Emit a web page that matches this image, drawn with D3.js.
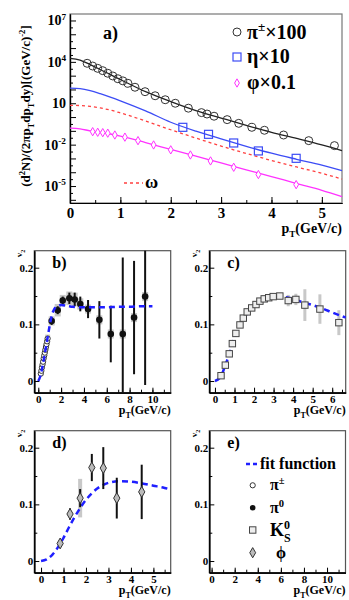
<!DOCTYPE html>
<html>
<head>
<meta charset="utf-8">
<script src="https://cdn.jsdelivr.net/npm/d3@7"></script>
<style>
body { margin: 0; background: #fff; }
svg text { font-family: "Liberation Serif", "Times New Roman", serif; font-weight: bold; }
</style>
</head>
<body>
<div id="chart"></div>
<script>
// ---------- panel a: spectra (pT in GeV/c) ----------
var piPt  = [0.34,0.45,0.55,0.65,0.75,0.85,0.95,1.05,1.15,1.29,1.49,1.69,1.89,2.09,2.35,2.61,2.72,2.86,3.12,3.35,3.61,3.86,4.24,4.74,5.25];
var piY   = [7900,5000,3400,2300,1500,950,600,420,280,145,69,35,18,10,4.4,2.1,1.66,1.15,0.65,0.35,0.18,0.11,0.050,0.0195,0.0085];
var etaPt = [2.24,2.75,3.25,3.74,4.49];
var etaY  = [0.18,0.056,0.0132,0.0035,0.00102];
var phiPt = [0.45,0.55,0.65,0.75,0.89,1.09,1.35,1.66,2.00,2.39,2.79,3.25,3.74,4.49];
var phiY  = [0.087,0.079,0.074,0.068,0.050,0.035,0.0195,0.0095,0.0042,0.00178,0.00066,0.000229,0.000068,0.0000126];
var phiErr = [0.022,0.02,0.018,0.017,0.013,0.009,0.005,0.0025,0.0011,0.00045,0.00017,0.00006,0.000018,0.0000035];

var fitPt    = [0,0.2,0.4,0.6,0.8,1.0,1.5,2.0,2.5,3.0,3.5,4.0,4.5,5.0,5.4];
var piFit    = [18200,13500,6300,2800,1200,525,69,13.2,2.95,0.85,0.25,0.079,0.028,0.0095,0.0037];
var etaFit   = [126,115,83,50,28,15,2.8,0.42,0.095,0.026,0.0076,0.0024,0.00087,0.00033,0.000132];
var omegaFit = [7.1,6.8,5.9,4.6,3.2,2.0,0.52,0.12,0.030,0.0079,0.0023,0.00071,0.00024,0.000083,0.000032];
var phiFit   = [0.155,0.138,0.100,0.078,0.059,0.042,0.0141,0.0045,0.00145,0.00047,0.000151,0.000049,0.0000151,0.0000049,0.0000017];

var logTicks = [7,4,1,-2,-5];

// ---------- panel b: pi v2 ----------
var pi0Pt  = [1.17,1.70,2.14,2.72,3.19,3.68,4.36,5.35,6.35,7.40,8.39,9.36];
var pi0V2  = [0.106,0.125,0.142,0.146,0.144,0.136,0.127,0.108,0.083,0.083,0.112,0.149];
var pi0Err = [0.007,0.007,0.007,0.010,0.012,0.013,0.016,0.033,0.05,0.135,0.1,0.156];
var pi0Sys = [0.008,0.011,0.010,0.012,0.012,0.010,0.008,0.008,0.008,0.008,0.008,0.008];
var piChPt  = [0.22,0.27,0.32,0.37,0.42,0.47,0.52,0.57,0.62,0.67,0.72,0.77,0.82];
var piChV2  = [0.013,0.018,0.024,0.029,0.034,0.040,0.045,0.050,0.055,0.060,0.065,0.070,0.075];
var piChSys = [0.004,0.004,0.004,0.005,0.005,0.005,0.005,0.006,0.006,0.006,0.006,0.007,0.007];
var fitBPt = [0,0.2,0.5,0.8,1.0,1.2,1.4,1.7,2.0,2.5,3,4,5,6,7,8,9,10];
var fitBV2 = [0,0.01,0.04,0.075,0.098,0.117,0.127,0.132,0.134,0.133,0.131,0.130,0.130,0.130,0.131,0.131,0.132,0.132];

// ---------- panel c: K0s v2 ----------
var ksPt  = [0.31,0.53,0.73,0.89,1.07,1.28,1.45,1.65,1.88,2.10,2.30,2.52,2.75,2.98,3.32,3.75,4.14,4.60,5.37,6.34];
var ksV2  = [0.0094,0.028,0.048,0.066,0.084,0.099,0.111,0.122,0.129,0.135,0.141,0.145,0.147,0.149,0.150,0.142,0.144,0.134,0.127,0.103];
var ksSys = [0.002,0.002,0.002,0.002,0.002,0.002,0.002,0.002,0.002,0.002,0.002,0.002,0.002,0.003,0.004,0.010,0.010,0.028,0.026,0.022];
var fitCPt = [0,0.3,0.5,0.75,1.0,1.25,1.5,1.75,2.0,2.5,3.0,3.5,4.0,4.5,5.0,5.5,6.0,6.69];
var fitCV2 = [0,0.008,0.025,0.049,0.076,0.097,0.112,0.123,0.132,0.142,0.147,0.148,0.145,0.139,0.134,0.128,0.121,0.112];

// ---------- panel d: phi v2 ----------
var phiDPt  = [0.85,1.29,1.74,2.26,2.77,3.37,4.48];
var phiDV2  = [0.031,0.083,0.111,0.165,0.164,0.111,0.122];
var phiDErr = [0.006,0.01,0.016,0.024,0.037,0.036,0.048];
var phiDSys = [0.004,0.006,0.034,0.006,0.006,0.006,0.006];
var fitDPt = [0,0.25,0.5,0.75,1.0,1.25,1.5,1.75,2.0,2.25,2.5,2.75,3.0,3.5,4.0,4.5,5.0,5.5,5.77];
var fitDV2 = [0,0.003,0.011,0.024,0.041,0.06,0.078,0.094,0.108,0.119,0.128,0.134,0.138,0.141,0.140,0.137,0.133,0.129,0.126];

var svg = d3.select("#chart").append("svg")
    .attr("width", 349)
    .attr("height", 600);

// text with sub/superscripts: parts = [[string, "sup"|"sub"|null], ...]
function rich(t, parts, fs) {
    var shift = 0;
    parts.forEach(function(p) {
        var s = p[1] === "sup" ? -0.4 * fs : (p[1] === "sub" ? 0.28 * fs : 0);
        t.append("tspan")
            .attr("dy", s - shift)
            .attr("font-size", p[1] ? fs * 0.66 : fs)
            .text(p[0]);
        shift = s;
    });
    return t;
}

function styleAxis(sel, fs) {
    sel.attr("font-family", null).attr("font-size", fs);
    sel.select(".domain").attr("stroke", "#000").attr("stroke-width", 1.2);
    sel.selectAll(".tick line").attr("stroke", "#000").attr("stroke-width", 1);
    sel.selectAll("text").attr("fill", "#000");
}

// ================= panel a =================
var a = { left: 70, right: 342, top: 14, bottom: 203 };
var xa = d3.scaleLinear().domain([0, 5.4]).range([a.left, a.right]);
var ya = d3.scaleLog().domain([Math.pow(10, -6.23), Math.pow(10, 7.47)]).range([a.bottom, a.top]);

svg.append("rect")
    .attr("x", a.left).attr("y", a.top)
    .attr("width", a.right - a.left).attr("height", a.bottom - a.top)
    .attr("fill", "none").attr("stroke", "#777").attr("stroke-width", 1.2);

// x axis
svg.append("g").attr("transform", "translate(0," + a.bottom + ")")
    .call(d3.axisBottom(xa).tickValues(d3.range(0, 5.5, 0.5)).tickSize(-3).tickFormat("").tickSizeOuter(0))
    .call(styleAxis, 15);
svg.append("g").attr("transform", "translate(0," + a.bottom + ")")
    .call(d3.axisBottom(xa).tickValues([0,1,2,3,4,5]).tickSize(-6).tickPadding(4).tickSizeOuter(0)
        .tickFormat(d3.format("d")))
    .call(styleAxis, 15);

// y axis (log) - decades and half decades
var decades = d3.range(-6, 8).map(function(e) { return Math.pow(10, e); });
var halves = d3.range(-6, 7).map(function(e) { return Math.pow(10, e + 0.5); });
svg.append("g").attr("transform", "translate(" + a.left + ",0)")
    .call(d3.axisLeft(ya).tickValues(halves).tickSize(-3).tickFormat("").tickSizeOuter(0))
    .call(styleAxis, 13);
svg.append("g").attr("transform", "translate(" + a.left + ",0)")
    .call(d3.axisLeft(ya).tickValues(decades).tickSize(-6).tickFormat("").tickSizeOuter(0))
    .call(styleAxis, 13);

logTicks.forEach(function(e) {
    var t = svg.append("text")
        .attr("x", 66).attr("y", ya(Math.pow(10, e)) + 5)
        .attr("text-anchor", "end");
    if (e === 1) rich(t, [["10", null]], 14);
    else rich(t, [["10", null], [String(e), "sup"]], 14);
});

// y title
var yt = svg.append("text")
    .attr("transform", "translate(30,106) rotate(-90)")
    .attr("text-anchor", "middle");
rich(yt, [["(d", null], ["2", "sup"], ["N)/(2πp", null], ["T", "sub"], ["dp", null], ["T", "sub"],
    ["dy)[(GeV/c)", null], ["-2", "sup"], ["]", null]], 13);

// x title
var xt = svg.append("text").attr("x", 342).attr("y", 233).attr("text-anchor", "end");
rich(xt, [["p", null], ["T", "sub"], ["(GeV/c)", null]], 14);

svg.append("text").attr("x", 103).attr("y", 39).attr("font-size", 18).text("a)");

var lineA = d3.line()
    .x(function(d) { return xa(d[0]); })
    .y(function(d) { return ya(d[1]); })
    .curve(d3.curveMonotoneX);

function zipA(ys) { return fitPt.map(function(p, i) { return [p, ys[i]]; }); }

svg.append("path").attr("d", lineA(zipA(piFit)))
    .attr("fill", "none").attr("stroke", "#222").attr("stroke-width", 1.3);
svg.append("path").attr("d", lineA(zipA(etaFit)))
    .attr("fill", "none").attr("stroke", "#3c4cf5").attr("stroke-width", 1.3);
svg.append("path").attr("d", lineA(zipA(omegaFit)))
    .attr("fill", "none").attr("stroke", "#ff4040").attr("stroke-width", 1.3)
    .attr("stroke-dasharray", "3,3");
svg.append("path").attr("d", lineA(zipA(phiFit)))
    .attr("fill", "none").attr("stroke", "#ff33ff").attr("stroke-width", 1.3);

// pi circles
svg.append("g").selectAll("circle").data(piPt).enter().append("circle")
    .attr("cx", function(d) { return xa(d); })
    .attr("cy", function(d, i) { return ya(piY[i]); })
    .attr("r", 4)
    .attr("fill", "none").attr("stroke", "#333").attr("stroke-width", 1);

// eta squares
svg.append("g").selectAll("rect").data(etaPt).enter().append("rect")
    .attr("x", function(d) { return xa(d) - 4; })
    .attr("y", function(d, i) { return ya(etaY[i]) - 4; })
    .attr("width", 8).attr("height", 8)
    .attr("fill", "none").attr("stroke", "#3c4cf5").attr("stroke-width", 1.2);

// phi diamonds with errors
var phiG = svg.append("g");
phiG.selectAll("line").data(phiPt).enter().append("line")
    .attr("x1", function(d) { return xa(d); }).attr("x2", function(d) { return xa(d); })
    .attr("y1", function(d, i) { return ya(phiY[i] + phiErr[i]); })
    .attr("y2", function(d, i) { return ya(phiY[i] - phiErr[i]); })
    .attr("stroke", "#ff33ff").attr("stroke-width", 1);
phiG.selectAll("path").data(phiPt).enter().append("path")
    .attr("d", d3.symbol().type(d3.symbolDiamond).size(20))
    .attr("transform", function(d, i) { return "translate(" + xa(d) + "," + ya(phiY[i]) + ")"; })
    .attr("fill", "#fff").attr("stroke", "#ff33ff").attr("stroke-width", 1);

// legend a
var leg = svg.append("g");
leg.append("circle").attr("cx", 237).attr("cy", 32).attr("r", 4)
    .attr("fill", "none").attr("stroke", "#333");
rich(leg.append("text").attr("x", 247).attr("y", 39), [["π", null], ["±", "sup"], ["×100", null]], 20);
leg.append("rect").attr("x", 233).attr("y", 53).attr("width", 8).attr("height", 8)
    .attr("fill", "none").attr("stroke", "#3c4cf5").attr("stroke-width", 1.2);
leg.append("text").attr("x", 247).attr("y", 63).attr("font-size", 20).text("η×10");
leg.append("path").attr("d", d3.symbol().type(d3.symbolDiamond).size(20))
    .attr("transform", "translate(237,83)")
    .attr("fill", "#fff").attr("stroke", "#ff33ff");
leg.append("text").attr("x", 247).attr("y", 89).attr("font-size", 20).text("φ×0.1");
leg.append("line").attr("x1", 124).attr("x2", 143).attr("y1", 183).attr("y2", 183)
    .attr("stroke", "#ff4040").attr("stroke-width", 1.3).attr("stroke-dasharray", "3,3");
leg.append("text").attr("x", 145).attr("y", 188).attr("font-size", 18).text("ω");

// ================= v2 panels =================
function panel(box, xDomain, xMajor, xMinor, label) {
    var x = d3.scaleLinear().domain(xDomain).range([box.left, box.right]);
    var y = d3.scaleLinear().domain([-0.0206, 0.23]).range([box.bottom, box.top]).clamp(true);
    var g = svg.append("g");

    g.append("rect")
        .attr("x", box.left).attr("y", box.top)
        .attr("width", box.right - box.left).attr("height", box.bottom - box.top)
        .attr("fill", "none").attr("stroke", "#555").attr("stroke-width", 1.2);

    g.append("g").attr("transform", "translate(0," + box.bottom + ")")
        .call(d3.axisBottom(x).tickValues(xMinor).tickSize(-3).tickFormat("").tickSizeOuter(0))
        .call(styleAxis, 11);
    g.append("g").attr("transform", "translate(0," + box.bottom + ")")
        .call(d3.axisBottom(x).tickValues(xMajor).tickSize(-5).tickPadding(2).tickSizeOuter(0)
            .tickFormat(d3.format("d")))
        .call(styleAxis, 11);
    g.append("g").attr("transform", "translate(" + box.left + ",0)")
        .call(d3.axisLeft(y).tickValues([0.05, 0.15]).tickSize(-3).tickFormat("").tickSizeOuter(0))
        .call(styleAxis, 11);
    g.append("g").attr("transform", "translate(" + box.left + ",0)")
        .call(d3.axisLeft(y).tickValues([0, 0.1, 0.2]).tickSize(-5).tickPadding(1).tickSizeOuter(0)
            .tickFormat(function(d) { return d === 0 ? "0" : d3.format(".1f")(d); }))
        .call(styleAxis, 11);

    rich(g.append("text")
        .attr("transform", "translate(" + (box.left - 12) + "," + (box.top - 1) + ") rotate(-90)")
        .attr("text-anchor", "end"), [["v", null], ["2", "sub"]], 9);

    rich(g.append("text").attr("x", box.right).attr("y", box.bottom + 21.5).attr("text-anchor", "end"),
        [["p", null], ["T", "sub"], ["(GeV/c)", null]], 12);

    g.append("text").attr("x", box.left + 18).attr("y", box.top + 17)
        .attr("font-size", 16).text(label);

    return { x: x, y: y, g: g };
}

function fitPath(p, pts, vals) {
    var line = d3.line()
        .x(function(d) { return p.x(d[0]); })
        .y(function(d) { return p.y(d[1]); })
        .curve(d3.curveMonotoneX);
    p.g.append("path")
        .attr("d", line(pts.map(function(v, i) { return [v, vals[i]]; })))
        .attr("fill", "none").attr("stroke", "#1f1fff").attr("stroke-width", 2.5)
        .attr("stroke-dasharray", "6,4");
}

function sysBoxes(p, pts, vals, sys, w) {
    p.g.append("g").selectAll("rect").data(pts).enter().append("rect")
        .attr("x", function(d) { return p.x(d) - w / 2; })
        .attr("y", function(d, i) { return p.y(vals[i] + sys[i]); })
        .attr("width", w)
        .attr("height", function(d, i) { return p.y(vals[i] - sys[i]) - p.y(vals[i] + sys[i]); })
        .attr("fill", "#c8c8c8");
}

function errBars(p, pts, vals, err) {
    p.g.append("g").selectAll("line").data(pts).enter().append("line")
        .attr("x1", function(d) { return p.x(d); }).attr("x2", function(d) { return p.x(d); })
        .attr("y1", function(d, i) { return p.y(vals[i] + err[i]); })
        .attr("y2", function(d, i) { return p.y(vals[i] - err[i]); })
        .attr("stroke", "#111").attr("stroke-width", 2);
}

// b)
var pb = panel({ left: 34.3, right: 170.7, top: 250.7, bottom: 392.7 }, [-0.35, 11.6],
    [0,2,4,6,8,10], d3.range(0, 12, 1), "b)");
sysBoxes(pb, pi0Pt, pi0V2, pi0Sys, 6);
sysBoxes(pb, piChPt, piChV2, piChSys, 5);
errBars(pb, pi0Pt, pi0V2, pi0Err);
pb.g.append("g").selectAll("circle").data(piChPt).enter().append("circle")
    .attr("cx", function(d) { return pb.x(d); })
    .attr("cy", function(d, i) { return pb.y(piChV2[i]); })
    .attr("r", 2.6).attr("fill", "#fff").attr("stroke", "#333").attr("stroke-width", 1);
pb.g.append("g").selectAll("circle").data(pi0Pt).enter().append("circle")
    .attr("cx", function(d) { return pb.x(d); })
    .attr("cy", function(d, i) { return pb.y(pi0V2[i]); })
    .attr("r", 3.3).attr("fill", "#111");
fitPath(pb, fitBPt, fitBV2);

// c)
var pc = panel({ left: 209.3, right: 345.7, top: 250.7, bottom: 392.7 }, [-0.29, 6.69],
    [0,1,2,3,4,5,6], d3.range(0, 6.6, 0.5), "c)");
sysBoxes(pc, ksPt, ksV2, ksSys, 3);
fitPath(pc, fitCPt, fitCV2);
pc.g.append("g").selectAll("rect").data(ksPt).enter().append("rect")
    .attr("x", function(d) { return pc.x(d) - 3.2; })
    .attr("y", function(d, i) { return pc.y(ksV2[i]) - 3.2; })
    .attr("width", 6.4).attr("height", 6.4)
    .attr("fill", "#eee").attr("stroke", "#444").attr("stroke-width", 1);

// d)
var pd = panel({ left: 34.3, right: 170.7, top: 430.7, bottom: 572.7 }, [-0.3, 5.77],
    [0,1,2,3,4,5], d3.range(0, 5.6, 0.5), "d)");
sysBoxes(pd, phiDPt, phiDV2, phiDSys, 4);
fitPath(pd, fitDPt, fitDV2);
errBars(pd, phiDPt, phiDV2, phiDErr);
pd.g.append("g").selectAll("path").data(phiDPt).enter().append("path")
    .attr("d", d3.symbol().type(d3.symbolDiamond).size(34))
    .attr("transform", function(d, i) { return "translate(" + pd.x(d) + "," + pd.y(phiDV2[i]) + ")"; })
    .attr("fill", "#bbb").attr("stroke", "#333").attr("stroke-width", 1);

// e) legend panel
var pe = panel({ left: 209.3, right: 345.5, top: 430.7, bottom: 572.7 }, [-0.2, 11.6],
    [0,2,4,6,8,10], d3.range(0, 12, 1), "e)");
pe.g.append("line").attr("x1", 246).attr("x2", 258).attr("y1", 464).attr("y2", 464)
    .attr("stroke", "#1f1fff").attr("stroke-width", 2.5).attr("stroke-dasharray", "4,3");
pe.g.append("text").attr("x", 260).attr("y", 469).attr("font-size", 16).text("fit function");
pe.g.append("circle").attr("cx", 252.7).attr("cy", 485.3).attr("r", 2.6)
    .attr("fill", "#fff").attr("stroke", "#333");
rich(pe.g.append("text").attr("x", 270).attr("y", 490), [["π", null], ["±", "sup"]], 16);
pe.g.append("circle").attr("cx", 252.7).attr("cy", 507.7).attr("r", 2.8).attr("fill", "#111");
rich(pe.g.append("text").attr("x", 270).attr("y", 513), [["π", null], ["0", "sup"]], 16);
pe.g.append("rect").attr("x", 249.5).attr("y", 526.8).attr("width", 6.4).attr("height", 6.4)
    .attr("fill", "#eee").attr("stroke", "#444");
var kt = pe.g.append("text").attr("x", 270).attr("y", 536).attr("font-size", 18);
kt.append("tspan").text("K");
kt.append("tspan").attr("font-size", 12).attr("dy", -7).text("0");
kt.append("tspan").attr("font-size", 12).attr("dx", -6).attr("dy", 13).text("S");
pe.g.append("path").attr("d", d3.symbol().type(d3.symbolDiamond).size(30))
    .attr("transform", "translate(252.7,552.7)")
    .attr("fill", "#bbb").attr("stroke", "#333");
pe.g.append("text").attr("x", 276).attr("y", 558).attr("font-size", 16).text("ϕ");
</script>
</body>
</html>
